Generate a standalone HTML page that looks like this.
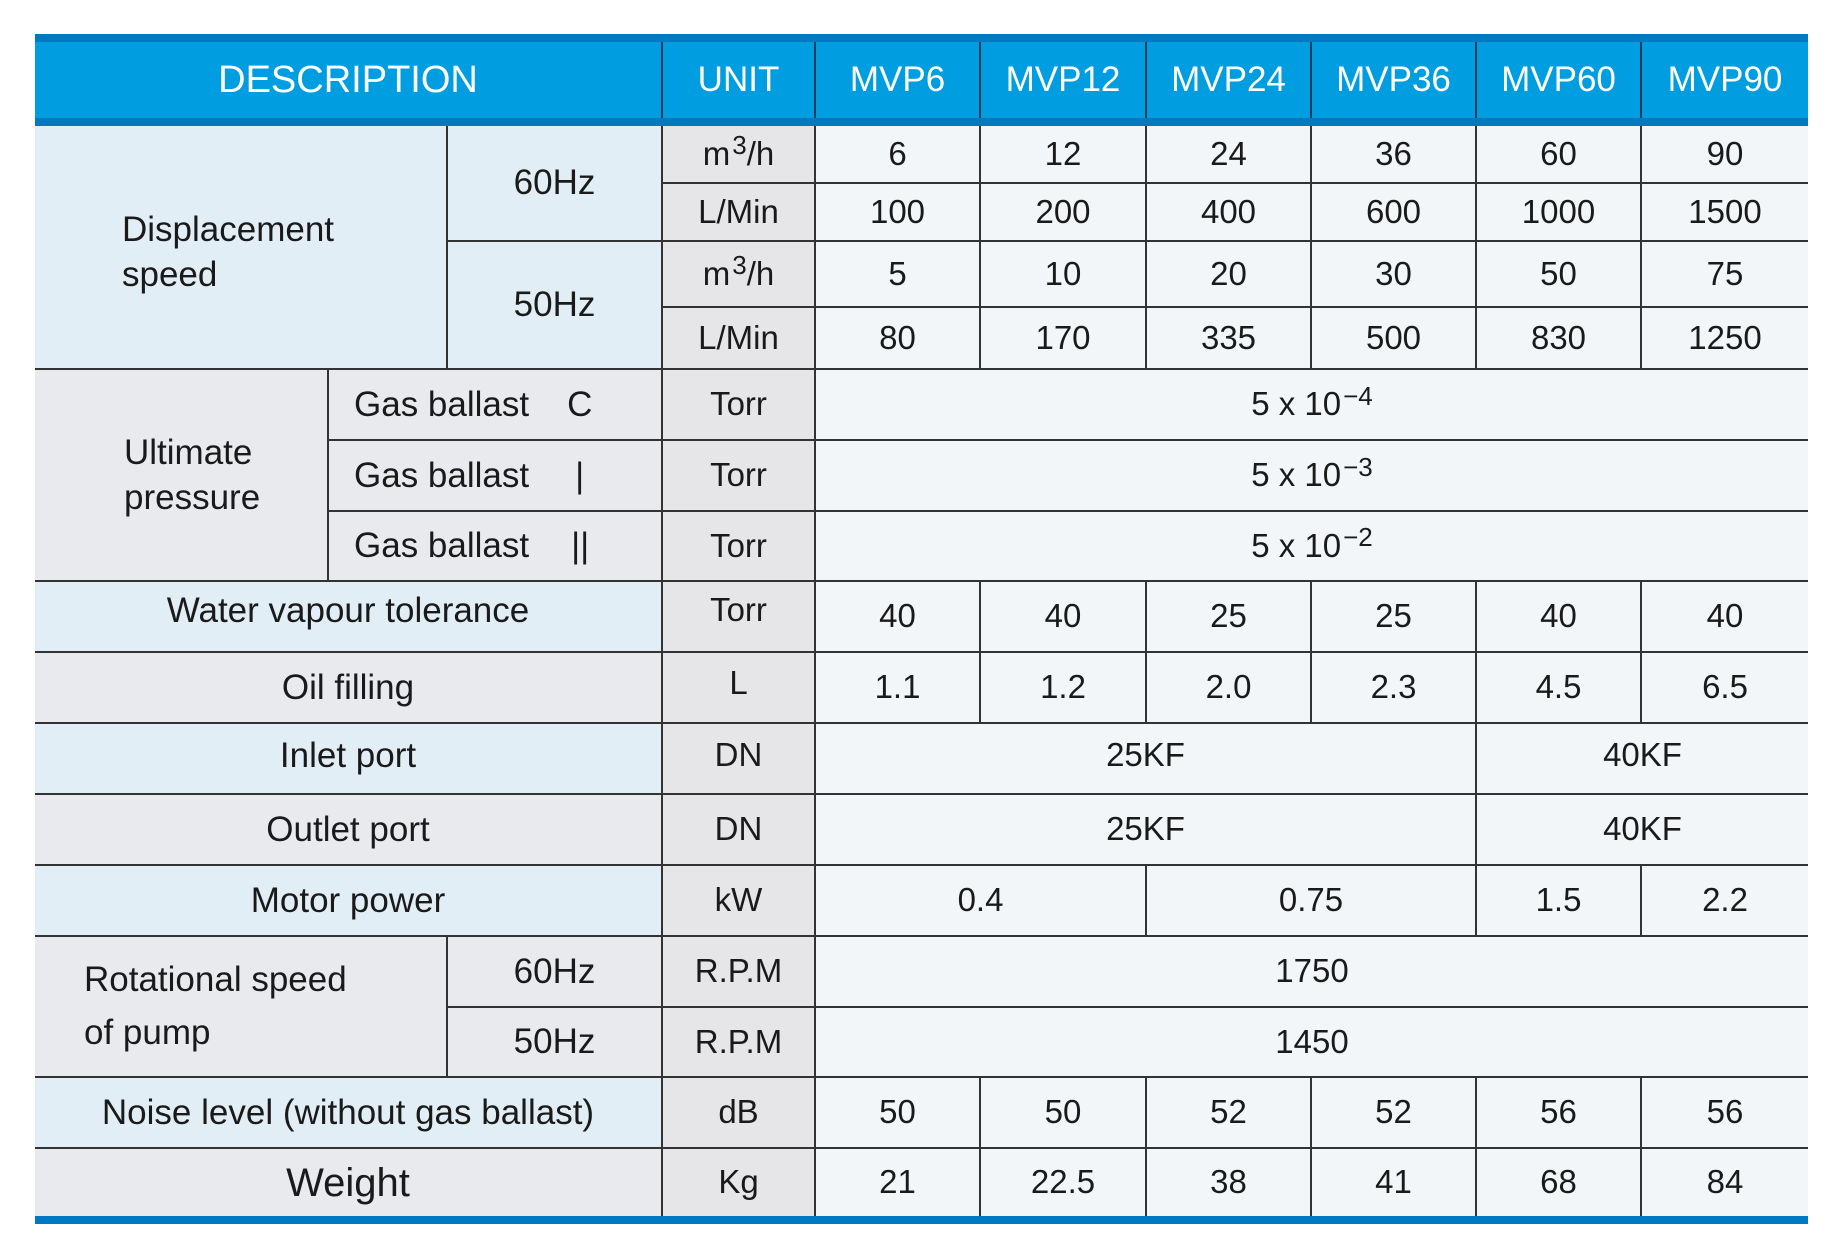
<!DOCTYPE html>
<html><head><meta charset="utf-8"><style>
*{margin:0;padding:0;box-sizing:border-box}
body{width:1825px;height:1255px;background:#fff;position:relative;overflow:hidden;font-family:"Liberation Sans",sans-serif;color:#1a1a1a}
.c{position:absolute;display:flex;align-items:center;justify-content:center;font-size:33px;border-right:2px solid #333;border-bottom:2px solid #333;text-align:center;line-height:1.3}
.b{background:#e1eef5}.g{background:#e8eaee}.u{background:#e6e6e8}.d{background:#f3f6f9}
.b,.g{font-size:35px}
.l{justify-content:flex-start;text-align:left}
.h{position:absolute;top:42px;height:76px;display:flex;align-items:center;justify-content:center;color:#fff;font-size:35px;border-right:2px solid #1a3a55}
sup{font-size:26px;position:relative;top:-8px;margin-left:2px}
</style></head><body>
<div style="position:absolute;left:35px;top:34px;width:1773px;height:92px;background:#0079bf"></div>
<div style="position:absolute;left:35px;top:42px;width:1773px;height:76px;background:#009ee0"></div>
<div class="h" style="left:35px;width:628px;font-size:38px">DESCRIPTION</div>
<div class="h" style="left:663px;width:153px">UNIT</div>
<div class="h" style="left:816px;width:165px">MVP6</div>
<div class="h" style="left:981px;width:166px">MVP12</div>
<div class="h" style="left:1147px;width:165px">MVP24</div>
<div class="h" style="left:1312px;width:165px">MVP36</div>
<div class="h" style="left:1477px;width:165px">MVP60</div>
<div class="h" style="left:1642px;width:166px;border-right:none">MVP90</div>

<!-- Displacement -->
<div class="c b l" style="left:35px;top:126px;width:413px;height:244px;padding-left:87px;padding-top:10px">Displacement<br>speed</div>
<div class="c b" style="left:448px;top:126px;width:215px;height:116px">60Hz</div>
<div class="c b" style="left:448px;top:242px;width:215px;height:128px">50Hz</div>
<div class="c u" style="left:663px;top:126px;width:153px;height:58px">m<sup>3</sup>/h</div>
<div class="c u" style="left:663px;top:184px;width:153px;height:58px">L/Min</div>
<div class="c u" style="left:663px;top:242px;width:153px;height:66px">m<sup>3</sup>/h</div>
<div class="c u" style="left:663px;top:308px;width:153px;height:62px">L/Min</div>

<div class="c d" style="left:816px;top:126px;width:165px;height:58px">6</div>
<div class="c d" style="left:981px;top:126px;width:166px;height:58px">12</div>
<div class="c d" style="left:1147px;top:126px;width:165px;height:58px">24</div>
<div class="c d" style="left:1312px;top:126px;width:165px;height:58px">36</div>
<div class="c d" style="left:1477px;top:126px;width:165px;height:58px">60</div>
<div class="c d" style="left:1642px;top:126px;width:166px;height:58px;border-right:none">90</div>

<div class="c d" style="left:816px;top:184px;width:165px;height:58px">100</div>
<div class="c d" style="left:981px;top:184px;width:166px;height:58px">200</div>
<div class="c d" style="left:1147px;top:184px;width:165px;height:58px">400</div>
<div class="c d" style="left:1312px;top:184px;width:165px;height:58px">600</div>
<div class="c d" style="left:1477px;top:184px;width:165px;height:58px">1000</div>
<div class="c d" style="left:1642px;top:184px;width:166px;height:58px;border-right:none">1500</div>

<div class="c d" style="left:816px;top:242px;width:165px;height:66px">5</div>
<div class="c d" style="left:981px;top:242px;width:166px;height:66px">10</div>
<div class="c d" style="left:1147px;top:242px;width:165px;height:66px">20</div>
<div class="c d" style="left:1312px;top:242px;width:165px;height:66px">30</div>
<div class="c d" style="left:1477px;top:242px;width:165px;height:66px">50</div>
<div class="c d" style="left:1642px;top:242px;width:166px;height:66px;border-right:none">75</div>

<div class="c d" style="left:816px;top:308px;width:165px;height:62px">80</div>
<div class="c d" style="left:981px;top:308px;width:166px;height:62px">170</div>
<div class="c d" style="left:1147px;top:308px;width:165px;height:62px">335</div>
<div class="c d" style="left:1312px;top:308px;width:165px;height:62px">500</div>
<div class="c d" style="left:1477px;top:308px;width:165px;height:62px">830</div>
<div class="c d" style="left:1642px;top:308px;width:166px;height:62px;border-right:none">1250</div>

<!-- Ultimate -->
<div class="c g l" style="left:35px;top:370px;width:294px;height:212px;padding-left:89px">Ultimate<br>pressure</div>
<div class="c g l" style="left:329px;top:370px;width:334px;height:71px;padding-left:25px">Gas ballast<span style="margin-left:38px">C</span></div>
<div class="c g l" style="left:329px;top:441px;width:334px;height:71px;padding-left:25px">Gas ballast<span style="margin-left:46px">|</span></div>
<div class="c g l" style="left:329px;top:512px;width:334px;height:70px;padding-left:25px">Gas ballast<span style="margin-left:42px">||</span></div>
<div class="c u" style="left:663px;top:370px;width:153px;height:71px">Torr</div>
<div class="c u" style="left:663px;top:441px;width:153px;height:71px">Torr</div>
<div class="c u" style="left:663px;top:512px;width:153px;height:70px">Torr</div>
<div class="c d" style="left:816px;top:370px;width:992px;height:71px;border-right:none">5 x 10<sup>−4</sup></div>
<div class="c d" style="left:816px;top:441px;width:992px;height:71px;border-right:none">5 x 10<sup>−3</sup></div>
<div class="c d" style="left:816px;top:512px;width:992px;height:70px;border-right:none">5 x 10<sup>−2</sup></div>

<!-- Water -->
<div class="c b" style="left:35px;top:582px;width:628px;height:71px;padding-bottom:12px">Water vapour tolerance</div>
<div class="c u" style="left:663px;top:582px;width:153px;height:71px;padding-bottom:12px">Torr</div>
<div class="c d" style="left:816px;top:582px;width:165px;height:71px">40</div>
<div class="c d" style="left:981px;top:582px;width:166px;height:71px">40</div>
<div class="c d" style="left:1147px;top:582px;width:165px;height:71px">25</div>
<div class="c d" style="left:1312px;top:582px;width:165px;height:71px">25</div>
<div class="c d" style="left:1477px;top:582px;width:165px;height:71px">40</div>
<div class="c d" style="left:1642px;top:582px;width:166px;height:71px;border-right:none">40</div>

<!-- Oil -->
<div class="c g" style="left:35px;top:653px;width:628px;height:71px">Oil filling</div>
<div class="c u" style="left:663px;top:653px;width:153px;height:71px;padding-bottom:8px">L</div>
<div class="c d" style="left:816px;top:653px;width:165px;height:71px">1.1</div>
<div class="c d" style="left:981px;top:653px;width:166px;height:71px">1.2</div>
<div class="c d" style="left:1147px;top:653px;width:165px;height:71px">2.0</div>
<div class="c d" style="left:1312px;top:653px;width:165px;height:71px">2.3</div>
<div class="c d" style="left:1477px;top:653px;width:165px;height:71px">4.5</div>
<div class="c d" style="left:1642px;top:653px;width:166px;height:71px;border-right:none">6.5</div>

<!-- Inlet -->
<div class="c b" style="left:35px;top:724px;width:628px;height:71px;padding-bottom:6px">Inlet port</div>
<div class="c u" style="left:663px;top:724px;width:153px;height:71px;padding-bottom:6px">DN</div>
<div class="c d" style="left:816px;top:724px;width:661px;height:71px;padding-bottom:6px">25KF</div>
<div class="c d" style="left:1477px;top:724px;width:331px;height:71px;border-right:none;padding-bottom:6px">40KF</div>

<!-- Outlet -->
<div class="c g" style="left:35px;top:795px;width:628px;height:71px">Outlet port</div>
<div class="c u" style="left:663px;top:795px;width:153px;height:71px">DN</div>
<div class="c d" style="left:816px;top:795px;width:661px;height:71px">25KF</div>
<div class="c d" style="left:1477px;top:795px;width:331px;height:71px;border-right:none">40KF</div>

<!-- Motor -->
<div class="c b" style="left:35px;top:866px;width:628px;height:71px">Motor power</div>
<div class="c u" style="left:663px;top:866px;width:153px;height:71px">kW</div>
<div class="c d" style="left:816px;top:866px;width:331px;height:71px">0.4</div>
<div class="c d" style="left:1147px;top:866px;width:330px;height:71px">0.75</div>
<div class="c d" style="left:1477px;top:866px;width:165px;height:71px">1.5</div>
<div class="c d" style="left:1642px;top:866px;width:166px;height:71px;border-right:none">2.2</div>

<!-- Rotational -->
<div class="c g l" style="left:35px;top:937px;width:413px;height:141px;padding-left:49px;line-height:1.5">Rotational speed<br>of pump</div>
<div class="c g" style="left:448px;top:937px;width:215px;height:71px">60Hz</div>
<div class="c g" style="left:448px;top:1008px;width:215px;height:70px">50Hz</div>
<div class="c u" style="left:663px;top:937px;width:153px;height:71px">R.P.M</div>
<div class="c u" style="left:663px;top:1008px;width:153px;height:70px">R.P.M</div>
<div class="c d" style="left:816px;top:937px;width:992px;height:71px;border-right:none">1750</div>
<div class="c d" style="left:816px;top:1008px;width:992px;height:70px;border-right:none">1450</div>

<!-- Noise -->
<div class="c b" style="left:35px;top:1078px;width:628px;height:71px">Noise level (without gas ballast)</div>
<div class="c u" style="left:663px;top:1078px;width:153px;height:71px">dB</div>
<div class="c d" style="left:816px;top:1078px;width:165px;height:71px">50</div>
<div class="c d" style="left:981px;top:1078px;width:166px;height:71px">50</div>
<div class="c d" style="left:1147px;top:1078px;width:165px;height:71px">52</div>
<div class="c d" style="left:1312px;top:1078px;width:165px;height:71px">52</div>
<div class="c d" style="left:1477px;top:1078px;width:165px;height:71px">56</div>
<div class="c d" style="left:1642px;top:1078px;width:166px;height:71px;border-right:none">56</div>

<!-- Weight -->
<div class="c g" style="left:35px;top:1149px;width:628px;height:67px;font-size:40px;border-bottom:none">Weight</div>
<div class="c u" style="left:663px;top:1149px;width:153px;height:67px;border-bottom:none">Kg</div>
<div class="c d" style="left:816px;top:1149px;width:165px;height:67px;border-bottom:none">21</div>
<div class="c d" style="left:981px;top:1149px;width:166px;height:67px;border-bottom:none">22.5</div>
<div class="c d" style="left:1147px;top:1149px;width:165px;height:67px;border-bottom:none">38</div>
<div class="c d" style="left:1312px;top:1149px;width:165px;height:67px;border-bottom:none">41</div>
<div class="c d" style="left:1477px;top:1149px;width:165px;height:67px;border-bottom:none">68</div>
<div class="c d" style="left:1642px;top:1149px;width:166px;height:67px;border:none">84</div>

<div style="position:absolute;left:35px;top:1216px;width:1773px;height:8px;background:#0079c2"></div>
</body></html>
